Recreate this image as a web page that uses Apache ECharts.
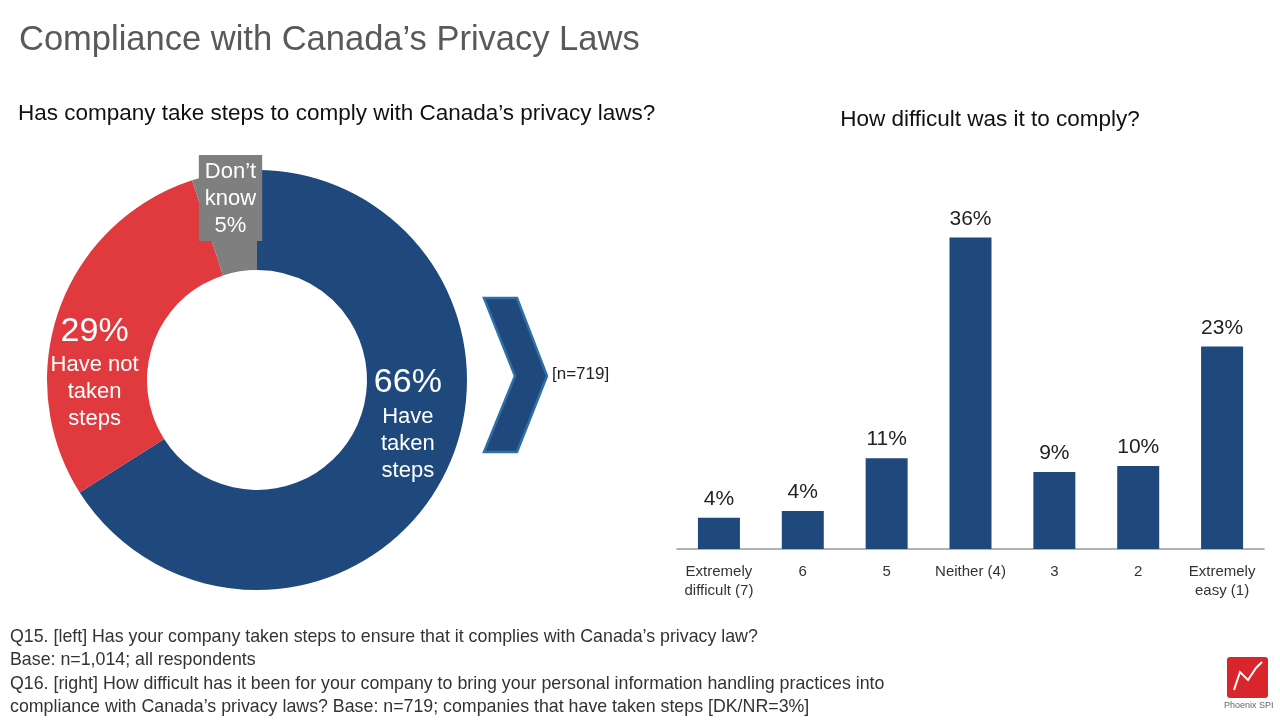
<!DOCTYPE html>
<html>
<head>
<meta charset="utf-8">
<title>Compliance with Canada's Privacy Laws</title>
<script src="https://cdn.jsdelivr.net/npm/echarts@6/dist/echarts.min.js"></script>
<style>
  html, body { margin: 0; padding: 0; background: #fff; }
  #main { width: 1280px; height: 720px; }
</style>
</head>
<body>
<div id="main"></div>
<script>
// donut: has company taken steps
var stepNames = ['Have taken steps', 'Have not taken steps', "Don\u2019t know"];
var stepValues = [66, 29, 5];
var stepColors = ['#1f497d', '#e0393e', '#7f7f7f'];

// bars: how difficult was it to comply
var levels = ['Extremely\ndifficult (7)', '6', '5', 'Neither (4)', '3', '2', 'Extremely\neasy (1)'];
var levelValues = [3.6, 4.4, 10.5, 36, 8.9, 9.6, 23.4];

var FONT = "'Liberation Sans', Arial, sans-serif";
var footnotes = [
    'Q15. [left] Has your company taken steps to ensure that it complies with Canada\u2019s privacy law?',
    'Base: n=1,014; all respondents',
    'Q16. [right] How difficult has it been for your company to bring your personal information handling practices into',
    'compliance with Canada\u2019s privacy laws? Base: n=719; companies that have taken steps [DK/NR=3%]'
];

var myChart = echarts.init(document.getElementById('main'));

var labelOffsets = [[8, -35], [-9, 47], [-1, -21]];
var pieData = stepValues.map(function (v, i) {
    var item = { value: v, name: stepNames[i], itemStyle: { color: stepColors[i] } };
    item.label = { offset: labelOffsets[i] };
    if (i === 2) {
        item.label.backgroundColor = '#7f7f7f';
        item.label.padding = [3, 6, 2, 6];
    }
    return item;
});

var footGraphics = footnotes.map(function (t, i) {
    return {
        type: 'text', left: 10, top: 628 + i * 23.5,
        style: { text: t, font: '17.8px ' + FONT, fill: '#333' }
    };
});

var option = {
    animation: false,
    textStyle: { fontFamily: FONT },
    title: [{
        text: 'Compliance with Canada\u2019s Privacy Laws',
        left: 14, top: 18,
        textStyle: { fontSize: 34.5, fontWeight: 'normal', color: '#595959', fontFamily: FONT }
    }, {
        text: 'Has company take steps to comply with Canada\u2019s privacy laws?',
        left: 13, top: 97,
        textStyle: { fontSize: 22.5, fontWeight: 'normal', color: '#111', fontFamily: FONT }
    }, {
        text: 'How difficult was it to comply?',
        left: 985, top: 103, textAlign: 'center',
        textStyle: { fontSize: 22.5, fontWeight: 'normal', color: '#111', fontFamily: FONT }
    }],
    grid: { left: 677, right: 16, top: 203, bottom: 171 },
    xAxis: {
        type: 'category',
        data: levels,
        axisLine: { lineStyle: { color: '#999', width: 1.5 } },
        axisTick: { show: false },
        axisLabel: { color: '#333', fontSize: 15, lineHeight: 19, margin: 13, interval: 0, fontFamily: FONT }
    },
    yAxis: { type: 'value', min: 0, max: 40, show: false },
    series: [{
        type: 'pie',
        radius: [110, 210],
        center: [257, 380],
        startAngle: 90,
        clockwise: true,
        data: pieData,
        label: {
            position: 'inside',
            color: '#fff',
            fontFamily: FONT,
            formatter: function (p) {
                var words = p.name.replace('Have not', 'Have\u00a0not').split(' ');
                if (p.dataIndex === 2) {
                    return '{sm|' + words.join('}\n{sm|') + '}\n{sm|' + p.value + '%}';
                }
                return '{big|' + p.value + '%}\n{sm|' + words.join('}\n{sm|') + '}';
            },
            rich: {
                big: { fontSize: 34, lineHeight: 40, color: '#fff', fontFamily: FONT },
                sm: { fontSize: 22, lineHeight: 27, color: '#fff', fontFamily: FONT }
            }
        },
        labelLine: { show: false },
        emphasis: { disabled: true }
    }, {
        type: 'bar',
        data: levelValues,
        barWidth: 42,
        itemStyle: { color: '#1f497d' },
        label: {
            show: true, position: 'top', distance: 8,
            color: '#222', fontSize: 21, fontFamily: FONT,
            formatter: function (p) { return Math.round(p.value) + '%'; }
        }
    }],
    graphic: [{
        type: 'polygon',
        shape: { points: [[484, 298], [517, 298], [547, 376], [517, 452], [484, 452], [515, 376]] },
        style: { fill: '#1f497d', stroke: '#2e6fa8', lineWidth: 2.5 }
    }, {
        type: 'text', left: 552, top: 366,
        style: { text: '[n=719]', font: '17px ' + FONT, fill: '#222' }
    }, {
        type: 'rect', left: 1227, top: 657,
        shape: { width: 41, height: 41, r: 3 },
        style: { fill: '#d9262c' }
    }, {
        type: 'polyline',
        shape: { points: [[1234, 690], [1240, 672], [1248, 680], [1256, 668], [1262, 662]] },
        style: { stroke: '#fff', lineWidth: 2, fill: null }
    }, {
        type: 'text', left: 1224, top: 701,
        style: { text: 'Phoenix SPI', font: '9px ' + FONT, fill: '#666' }
    }].concat(footGraphics)
};

myChart.setOption(option);
window.addEventListener('resize', function () {
    myChart.resize();
});
</script>
</body>
</html>
